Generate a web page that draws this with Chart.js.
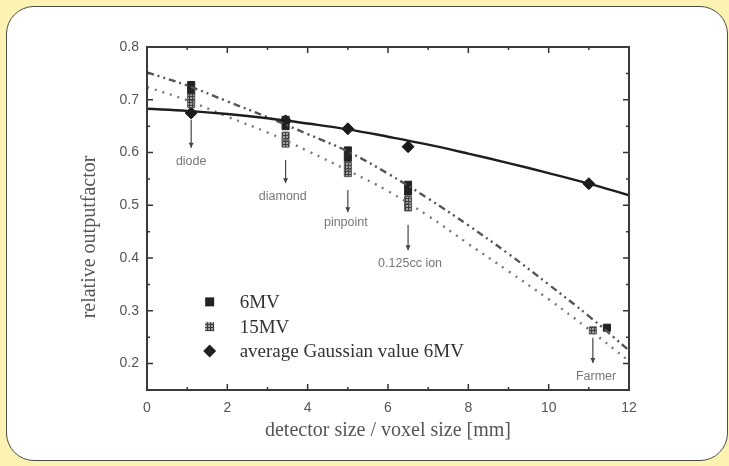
<!DOCTYPE html>
<html>
<head>
<meta charset="utf-8">
<script src="https://cdn.jsdelivr.net/npm/chart.js@4.4.1/dist/chart.umd.min.js"></script>
<style>
  html, body { margin: 0; padding: 0; }
  body { width: 729px; height: 466px; background: #fcf3b2; position: relative; overflow: hidden; }
  #frame {
    position: absolute; left: 6px; top: 6px; width: 722px; height: 455px;
    background: #fff; border: 1.5px solid #4a4a4a; border-radius: 28px; box-sizing: border-box;
  }
  #wrap { position: absolute; left: 0; top: 0; width: 729px; height: 466px; }
</style>
</head>
<body>
<div id="frame"></div>
<div id="wrap"><canvas id="chart" width="729" height="466"></canvas></div>
<script>
// valores
const sixMvX = [1.1, 1.1, 3.45, 3.45, 5.0, 5.0, 6.5, 6.5, 11.45];
const sixMvY = [0.728, 0.716, 0.662, 0.65, 0.604, 0.59, 0.539, 0.526, 0.268];
const fifteenMvX = [1.1, 1.1, 3.45, 3.45, 5.0, 5.0, 6.5, 6.5, 11.1];
const fifteenMvY = [0.704, 0.692, 0.632, 0.617, 0.575, 0.561, 0.51, 0.496, 0.263];
const gaussX = [1.1, 3.45, 5.0, 6.5, 11.0];
const gaussY = [0.675, 0.66, 0.645, 0.611, 0.541];

// curvas ajustadas
const fitX = [0, 1, 2, 3, 4, 5, 6, 7, 8, 9, 10, 11, 12];
const gaussFitY = [0.683, 0.679, 0.673, 0.665, 0.655, 0.644, 0.630, 0.615, 0.598, 0.580, 0.561, 0.541, 0.519];
const sixMvFitY = [0.752, 0.727, 0.697, 0.667, 0.635, 0.602, 0.560, 0.513, 0.462, 0.408, 0.350, 0.290, 0.225];
const fifteenMvFitY = [0.724, 0.699, 0.668, 0.638, 0.603, 0.566, 0.527, 0.480, 0.427, 0.375, 0.322, 0.265, 0.205];

const xTicks = [0, 2, 4, 6, 8, 10, 12];
const yTicks = [0.2, 0.3, 0.4, 0.5, 0.6, 0.7, 0.8];

// detectores: nome, x da seta, topo da seta, fim da seta, posição do texto
const detectorNames = ['diode', 'diamond', 'pinpoint', '0.125cc ion', 'Farmer'];
const detectorX = [1.1, 3.45, 5.0, 6.5, 11.1];
const labelX = [1.1, 3.38, 4.95, 6.55, 11.18];
const arrowFrom = [0.662, 0.586, 0.529, 0.463, 0.249];
const arrowTo = [0.609, 0.542, 0.487, 0.415, 0.201];
const labelY = [0.582, 0.516, 0.468, 0.39, 0.176];

const legendNames = ['6MV', '15MV', 'average Gaussian value 6MV'];
const legendRowsY = [0.317, 0.27, 0.224];
const yTitle = 'relative outputfactor';

function toPoints(xs, ys) {
    return xs.map((x, i) => ({ x: x, y: ys[i] }));
}

/**
 * Hachura simples para os pontos de 15MV
 */
function hatchPattern() {
    const c = document.createElement('canvas');
    c.width = 3; c.height = 3;
    const g = c.getContext('2d');
    g.fillStyle = '#a0a0a0';
    g.fillRect(0, 0, 3, 3);
    g.fillStyle = '#3c3c3c';
    g.fillRect(0, 0, 1, 3);
    g.fillRect(0, 0, 3, 1);
    return g.createPattern(c, 'repeat');
}
const hatch = hatchPattern();

/**
 * Moldura, ticks internos, setas, título do eixo y e legenda
 */
const decorPlugin = {
    id: 'decor',
    afterDraw(chart) {
        const { ctx, chartArea: a, scales: { x, y } } = chart;
        ctx.save();

        // ticks para dentro nos quatro lados
        ctx.strokeStyle = '#333';
        ctx.lineWidth = 1.5;
        for (let v = 0; v <= 12; v += 1) {
            const px = x.getPixelForValue(v);
            const len = v % 2 === 0 ? 6 : 3;
            ctx.beginPath();
            ctx.moveTo(px, a.bottom); ctx.lineTo(px, a.bottom - len);
            ctx.moveTo(px, a.top); ctx.lineTo(px, a.top + len);
            ctx.stroke();
        }
        for (let v = 0.15; v <= 0.801; v += 0.05) {
            const py = y.getPixelForValue(v);
            const major = Math.abs(v * 10 - Math.round(v * 10)) < 0.01;
            const len = major ? 6 : 3;
            ctx.beginPath();
            ctx.moveTo(a.left, py); ctx.lineTo(a.left + len, py);
            ctx.moveTo(a.right, py); ctx.lineTo(a.right - len, py);
            ctx.stroke();
        }

        // moldura
        ctx.lineWidth = 2;
        ctx.strokeStyle = '#3a3a3a';
        ctx.strokeRect(a.left, a.top, a.right - a.left, a.bottom - a.top);

        // setas e nomes dos detectores
        ctx.lineWidth = 1.2;
        ctx.font = '12.5px "Liberation Sans", sans-serif';
        ctx.textAlign = 'center';
        ctx.textBaseline = 'middle';
        detectorNames.forEach((name, i) => {
            const px = x.getPixelForValue(detectorX[i]);
            const y1 = y.getPixelForValue(arrowFrom[i]);
            const y2 = y.getPixelForValue(arrowTo[i]);
            ctx.strokeStyle = '#444';
            ctx.fillStyle = '#444';
            ctx.beginPath();
            ctx.moveTo(px, y1); ctx.lineTo(px, y2);
            ctx.stroke();
            ctx.beginPath();
            ctx.moveTo(px - 2.5, y2 - 5); ctx.lineTo(px, y2); ctx.lineTo(px + 2.5, y2 - 5);
            ctx.closePath();
            ctx.fill();
            ctx.fillStyle = '#777';
            ctx.fillText(name, x.getPixelForValue(labelX[i]), y.getPixelForValue(labelY[i]));
        });

        // título do eixo y
        ctx.save();
        ctx.translate(90, 237);
        ctx.rotate(-Math.PI / 2);
        ctx.fillStyle = '#555';
        ctx.font = '20px "Liberation Serif", serif';
        ctx.fillText(yTitle, 0, 0);
        ctx.restore();

        // legenda dentro do gráfico
        const lx = x.getPixelForValue(1.56);
        const rows = legendRowsY.map(v => y.getPixelForValue(v));
        ctx.fillStyle = '#222';
        ctx.fillRect(lx - 4.5, rows[0] - 4.5, 9, 9);
        ctx.fillStyle = hatch;
        ctx.fillRect(lx - 4.5, rows[1] - 4.5, 9, 9);
        ctx.fillStyle = '#222';
        ctx.beginPath();
        ctx.moveTo(lx, rows[2] - 6.5); ctx.lineTo(lx + 6.5, rows[2]);
        ctx.lineTo(lx, rows[2] + 6.5); ctx.lineTo(lx - 6.5, rows[2]);
        ctx.closePath();
        ctx.fill();
        ctx.fillStyle = '#333';
        ctx.font = '19px "Liberation Serif", serif';
        ctx.textAlign = 'left';
        legendNames.forEach((t, i) => ctx.fillText(t, lx + 30, rows[i] + 1));

        ctx.restore();
    }
};

const ctx = document.getElementById('chart').getContext('2d');
const myChart = new Chart(ctx, {
    type: 'scatter',
    data: {
        datasets: [
            {
                label: 'Gaussian fit',
                type: 'line',
                data: toPoints(fitX, gaussFitY),
                borderColor: '#1e1e1e',
                borderWidth: 2.4,
                pointRadius: 0,
                tension: 0.4,
                fill: false
            },
            {
                label: '6MV fit',
                type: 'line',
                data: toPoints(fitX, sixMvFitY),
                borderColor: '#555',
                borderWidth: 2.4,
                borderDash: [7, 4, 2, 4, 2, 4],
                pointRadius: 0,
                tension: 0.4,
                fill: false
            },
            {
                label: '15MV fit',
                type: 'line',
                data: toPoints(fitX, fifteenMvFitY),
                borderColor: '#777',
                borderWidth: 2.4,
                borderDash: [2, 6],
                pointRadius: 0,
                tension: 0.4,
                fill: false
            },
            {
                label: '15MV',
                data: toPoints(fifteenMvX, fifteenMvY),
                pointStyle: 'rect',
                pointRadius: 5,
                backgroundColor: hatch,
                borderColor: '#555',
                borderWidth: 1
            },
            {
                label: '6MV',
                data: toPoints(sixMvX, sixMvY),
                pointStyle: 'rect',
                pointRadius: 5,
                backgroundColor: '#222',
                borderColor: '#222',
                borderWidth: 1
            },
            {
                label: 'average Gaussian value 6MV',
                data: toPoints(gaussX, gaussY),
                pointStyle: 'rectRot',
                pointRadius: 6,
                backgroundColor: '#1a1a1a',
                borderColor: '#1a1a1a',
                borderWidth: 1
            }
        ]
    },
    options: {
        responsive: false,
        animation: false,
        layout: { padding: { left: 0, top: 47, right: 100, bottom: 0 } },
        plugins: {
            legend: { display: false },
            tooltip: { enabled: false }
        },
        scales: {
            x: {
                type: 'linear',
                min: 0,
                max: 12,
                afterBuildTicks: s => { s.ticks = xTicks.map(v => ({ value: v })); },
                afterFit: s => { s.height = 76; },
                grid: { display: false, drawTicks: false },
                border: { display: false },
                ticks: {
                    padding: 10,
                    color: '#555',
                    font: { family: '"Liberation Sans", sans-serif', size: 14 },
                    maxRotation: 0
                },
                title: {
                    display: true,
                    text: 'detector size / voxel size [mm]',
                    color: '#555',
                    font: { family: '"Liberation Serif", serif', size: 20 },
                    padding: { top: 0, bottom: 23 }
                }
            },
            y: {
                type: 'linear',
                min: 0.15,
                max: 0.8,
                afterBuildTicks: s => { s.ticks = yTicks.map(v => ({ value: v })); },
                afterFit: s => { s.width = 147; },
                grid: { display: false, drawTicks: false },
                border: { display: false },
                ticks: {
                    padding: 8,
                    color: '#555',
                    font: { family: '"Liberation Sans", sans-serif', size: 14 },
                    callback: v => v.toFixed(1)
                }
            }
        }
    },
    plugins: [decorPlugin]
});
</script>
</body>
</html>
